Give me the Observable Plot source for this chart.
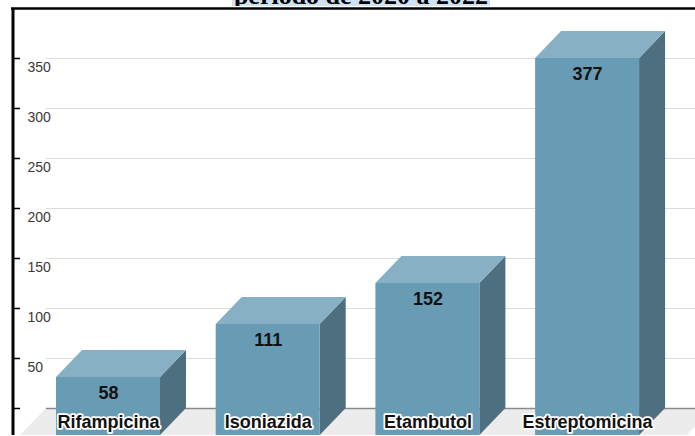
<!DOCTYPE html>
<html>
<head>
<meta charset="utf-8">
<script src="https://cdn.jsdelivr.net/npm/d3@7"></script>
<script src="https://cdn.jsdelivr.net/npm/@observablehq/plot@0.6"></script>
<style>
  html, body { margin: 0; padding: 0; background: #fff; }
  #wrap { position: relative; width: 695px; height: 436px; overflow: hidden; }
  #title {
    position: absolute; left: 232px; top: -17px; width: 258px; height: 23px;
    background: #cfe2f3; overflow: hidden; white-space: nowrap; text-align: center;
    font-family: "Liberation Serif", "DejaVu Serif", serif; font-weight: bold;
    font-size: 26px; line-height: 26px; color: #000; z-index: 2;
  }
</style>
</head>
<body>
<div id="wrap"></div>
<script>
// ---- data ----
const categories = ["Rifampicina", "Isoniazida", "Etambutol", "Estreptomicina"];
const values = [58, 111, 152, 377];
const yTicks = [0, 50, 100, 150, 200, 250, 300, 350];
const titleText = "período de 2020 a 2022";

// ---- styling / 3D geometry (in scale units) ----
const halfW = 0.3256;   // half bar width (category units)
const depthX = 0.1628;  // 3D depth, x (category units)
const depthY = 27;      // 3D depth, y (value units)
const xMin = -0.7138, xMax = 3.5129;
const floorLeft = -0.551, floorRight = 3.625;
const colFront = "#689cb5", colTop = "#87b0c4", colSide = "#4d6f80";

const bars = categories.map((c, i) => ({cat: c, i, value: values[i]}));
const topPts = bars.flatMap(d => [
  {cat: d.cat, y: d.value - depthY, x1: d.i - halfW - depthX, x2: d.i + halfW - depthX},
  {cat: d.cat, y: d.value, x1: d.i - halfW, x2: d.i + halfW}
]);
const sidePts = bars.flatMap(d => [
  {cat: d.cat, x: d.i + halfW - depthX, y1: -depthY, y2: d.value - depthY},
  {cat: d.cat, x: d.i + halfW, y1: 0, y2: d.value}
]);
const floorPts = [
  {y: -depthY, x1: floorLeft - depthX, x2: floorRight - depthX},
  {y: 0, x1: floorLeft, x2: floorRight}
];

const chart = Plot.plot({
  width: 695,
  height: 436,
  marginTop: 8,
  marginBottom: 1,
  marginLeft: 20,
  marginRight: 0,
  style: {fontFamily: "'Liberation Sans', Arial, sans-serif", background: "#fff"},
  x: {type: "linear", domain: [xMin, xMax], axis: null},
  y: {domain: [-depthY, 400], axis: null},
  marks: [
    Plot.areaX(floorPts, {y: "y", x1: "x1", x2: "x2", fill: "#ececec"}),
    Plot.ruleY(yTicks.filter(t => t > 0), {x1: floorLeft, x2: xMax, stroke: "#dcdcdc", strokeWidth: 1.2}),
    Plot.ruleY([0], {x1: floorLeft, x2: xMax, stroke: "#8a8a8a", strokeWidth: 1.6}),
    Plot.axisY(yTicks, {
      anchor: "left", tickSize: 8, stroke: "#000", strokeWidth: 1.5,
      tickFormat: () => "", label: null
    }),
    Plot.text(yTicks.filter(t => t > 0), {
      y: d => d, frameAnchor: "left", dx: 7, dy: 9, textAnchor: "start",
      text: d => String(d), fontSize: 14, fill: "#3a3a3a"
    }),
    Plot.ruleX([xMin], {dx: -7.5, stroke: "#000", strokeWidth: 3}),
    Plot.ruleY([400], {stroke: "#000", strokeWidth: 2.5, insetLeft: -9}),
    // 3D bars
    Plot.areaY(sidePts, {x: "x", y1: "y1", y2: "y2", z: "cat", fill: colSide}),
    Plot.areaX(topPts, {y: "y", x1: "x1", x2: "x2", z: "cat", fill: colTop}),
    Plot.rect(bars, {
      x1: d => d.i - halfW - depthX, x2: d => d.i + halfW - depthX,
      y1: -depthY, y2: d => d.value - depthY, fill: colFront
    }),
    Plot.text(bars, {
      x: d => d.i - depthX, y: d => d.value - depthY, dy: 16,
      text: d => String(d.value), fontSize: 18, fontWeight: "bold", fill: "#111"
    }),
    Plot.text(bars, {
      x: d => d.i - depthX, y: -depthY, dy: -13,
      text: "cat", fontSize: 18, fontWeight: "bold", fill: "#111",
      stroke: "#fff", strokeWidth: 3.5, paintOrder: "stroke"
    })
  ]
});

const wrap = document.getElementById("wrap");
wrap.appendChild(chart);
const t = document.createElement("div");
t.id = "title";
t.textContent = titleText;
wrap.appendChild(t);
</script>
</body>
</html>
